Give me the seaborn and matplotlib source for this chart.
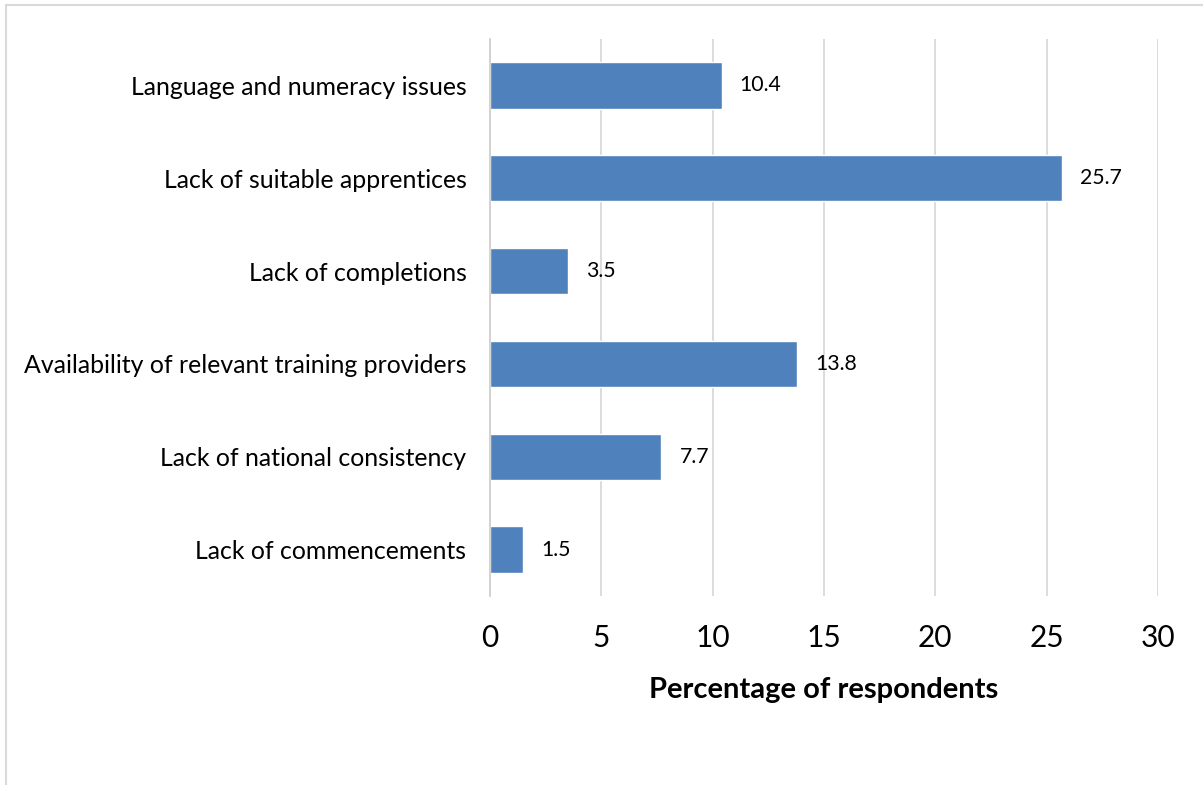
import matplotlib
matplotlib.use("Agg")
import matplotlib.pyplot as plt
import seaborn as sns
import pandas as pd
from matplotlib.patches import Rectangle

categories = [
    "Language and numeracy issues",
    "Lack of suitable apprentices",
    "Lack of completions",
    "Availability of relevant training providers",
    "Lack of national consistency",
    "Lack of commencements",
]
values = [10.4, 25.7, 3.5, 13.8, 7.7, 1.5]
x_ticks = [0, 5, 10, 15, 20, 25, 30]

df = pd.DataFrame({"category": categories, "value": values})

sns.set_theme(style="white")
plt.rcParams["font.family"] = ["Lato", "DejaVu Sans"]

fig = plt.figure(figsize=(12.03, 7.85), dpi=100)
ax = fig.add_axes([490 / 1203, 1 - 596 / 785, (1158 - 490) / 1203, (596 - 39) / 785])

sns.barplot(data=df, x="value", y="category", orient="h", color="#4F81BD",
            saturation=1, width=0.5, ax=ax)

ax.set_xlim(0, 30)
ax.set_ylim(len(categories) - 0.5, -0.5)
ax.set_xticks(x_ticks)
ax.set_xticklabels([str(t) for t in x_ticks], fontsize=21.5, color="#000000")
ax.tick_params(axis="x", length=0, pad=20)
ax.tick_params(axis="y", length=0, pad=17, labelsize=17.9, labelcolor="#000000")
ax.set_ylabel("")
ax.set_xlabel("Percentage of respondents", fontsize=21, fontweight="bold",
              labelpad=18, color="#000000")

ax.xaxis.grid(True, color="#D9D9D9", linewidth=1.3)
ax.set_axisbelow(True)
for side in ["top", "right", "bottom"]:
    ax.spines[side].set_visible(False)
ax.spines["left"].set_color("#D0D0D0")
ax.spines["left"].set_linewidth(1.3)

for i, v in enumerate(values):
    ax.annotate(f"{v:.1f}", xy=(v, i), xytext=(13, 0), textcoords="offset points",
                va="center", ha="left", fontsize=15.3, color="#000000")

# Light frame around the chart area
fig.patches.append(Rectangle((6 / 1203, -0.1), 1.2, 1.1 - 4.5 / 785,
                             transform=fig.transFigure, fill=False,
                             edgecolor="#D9D9D9", linewidth=1.5))

fig.savefig("out.png", dpi=100)
